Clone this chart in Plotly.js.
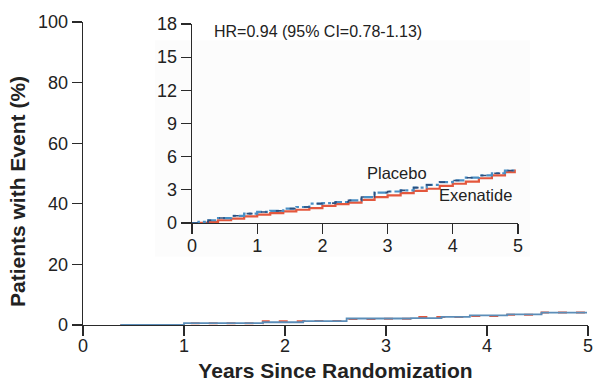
<!DOCTYPE html>
<html>
<head>
<meta charset="utf-8">
<script src="https://cdn.plot.ly/plotly-3.0.1.min.js"></script>
<style>
  html, body { margin: 0; padding: 0; background: #fff; }
  #chart { width: 593px; height: 382px; }
</style>
</head>
<body>
<div id="chart"></div>
<script>
// Cumulative incidence (%) by years since randomization, full 0-100 scale
const mainYears     = [0.37, 1.0, 1.42, 1.78, 2.18, 2.61, 2.9, 3.25, 3.55, 3.83, 4.2, 4.54, 4.99];
const mainPlacebo   = [0, 0.65, 0.65, 0.9, 1.3, 2.15, 2.15, 2.3, 2.65, 3.2, 3.5, 4.1, 4.1];
const mainExenatide = [0, 0.55, 0.6, 1.2, 1.3, 1.95, 2.1, 2.65, 2.65, 3.0, 3.4, 4.1, 4.1];

// Zoomed-in view (0-18 %)
const insetYears     = [0, 0.1, 0.25, 0.4, 0.6, 0.8, 1.0, 1.2, 1.4, 1.6, 1.8, 2.0, 2.2, 2.4, 2.6, 2.8, 3.0, 3.2, 3.4, 3.6, 3.8, 4.0, 4.2, 4.4, 4.6, 4.8, 4.95];
const insetPlacebo   = [0, 0.1, 0.25, 0.45, 0.65, 0.85, 1.0, 1.1, 1.3, 1.45, 1.75, 1.8, 1.9, 2.05, 2.35, 2.75, 2.85, 2.95, 3.2, 3.45, 3.7, 3.85, 4.1, 4.3, 4.5, 4.75, 4.9];
const insetExenatide = [0, 0.02, 0.1, 0.25, 0.4, 0.6, 0.75, 0.9, 1.05, 1.2, 1.35, 1.55, 1.7, 1.85, 2.1, 2.35, 2.5, 2.7, 2.9, 3.1, 3.35, 3.55, 3.75, 4.05, 4.3, 4.6, 4.85];

const mainYTicks  = [0, 20, 40, 60, 80, 100];
const insetYTicks = [0, 3, 6, 9, 12, 15, 18];
const xTicks      = [0, 1, 2, 3, 4, 5];

const hrText = 'HR=0.94 (95% CI=0.78-1.13)';
const groupNames = ['Placebo', 'Exenatide'];
const yTitle = 'Patients with Event (%)';
const xTitle = 'Years Since Randomization';

const RED = '#e3573d';
const BLUE = '#4a8fc4';
const NAVY = '#2d4f7e';
const AXIS = '#2a2a2a';
const TEXT = '#222';
const FONT = 'Liberation Sans, Arial, sans-serif';

const traces = [
  { x: mainYears, y: mainExenatide, xaxis: 'x', yaxis: 'y', mode: 'lines',
    line: { shape: 'hv', color: RED, width: 2, dash: 'dash' }, name: groupNames[1] },
  { x: mainYears, y: mainPlacebo, xaxis: 'x', yaxis: 'y', mode: 'lines',
    line: { shape: 'hv', color: '#5b8db8', width: 1.8 }, name: groupNames[0] },
  { x: insetYears, y: insetExenatide, xaxis: 'x2', yaxis: 'y2', mode: 'lines',
    line: { shape: 'hv', color: RED, width: 2.2 }, name: groupNames[1] },
  { x: insetYears, y: insetPlacebo, xaxis: 'x2', yaxis: 'y2', mode: 'lines',
    line: { shape: 'hv', color: BLUE, width: 2.2, dash: 'dashdot' }, name: groupNames[0] },
  { x: insetYears, y: insetPlacebo, xaxis: 'x2', yaxis: 'y2', mode: 'lines',
    line: { shape: 'hv', color: NAVY, width: 1.6, dash: '6px,10px' }, name: groupNames[0] }
];

const axisCommon = {
  showline: true, linecolor: AXIS, linewidth: 1.3,
  ticks: 'outside', ticklen: 10, tickwidth: 1.3, tickcolor: AXIS,
  showgrid: false, zeroline: false, ticklabeloverflow: 'allow',
  tickfont: { family: FONT, size: 18, color: TEXT }
};

const layout = {
  width: 593, height: 382,
  margin: { l: 83, r: 5, t: 22, b: 57 },
  paper_bgcolor: '#fff', plot_bgcolor: 'rgba(0,0,0,0)',
  showlegend: false,
  font: { family: FONT, color: TEXT },
  xaxis: Object.assign({}, axisCommon, {
    domain: [0, 1], range: [0, 5], tickvals: xTicks, anchor: 'y',
    ticklabelstandoff: -6,
    title: { text: '<b>' + xTitle + '</b>', font: { family: FONT, size: 21, color: TEXT }, standoff: 10 }
  }),
  yaxis: Object.assign({}, axisCommon, {
    domain: [0, 1], range: [0, 100], tickvals: mainYTicks, anchor: 'x'
  }),
  xaxis2: Object.assign({}, axisCommon, {
    domain: [0.2158, 0.8614], range: [0, 5], tickvals: xTicks, anchor: 'y2',
    ticklabelstandoff: -4
  }),
  yaxis2: Object.assign({}, axisCommon, {
    domain: [0.3366, 0.9934], range: [0, 18], tickvals: insetYTicks, anchor: 'x2'
  }),
  shapes: [
    { type: 'rect', xref: 'paper', yref: 'paper', x0: 0.143, x1: 0.885, y0: 0.225, y1: 0.94,
      fillcolor: '#fcfcfc', line: { width: 0 }, layer: 'below' }
  ],
  annotations: [
    // vertical axis title, set a little below the axis midpoint
    { xref: 'paper', yref: 'paper', x: -0.1287, y: 0.439, xanchor: 'center', yanchor: 'middle',
      textangle: -90, text: '<b>' + yTitle + '</b>', showarrow: false,
      font: { family: FONT, size: 21, color: TEXT } },
    { xref: 'x2', yref: 'y2', x: 0.3, y: 17.35, xanchor: 'left', yanchor: 'middle',
      text: hrText, showarrow: false, font: { family: FONT, size: 16, color: TEXT } },
    { xref: 'x2', yref: 'y2', x: 3.15, y: 4.5, xanchor: 'center', yanchor: 'middle',
      text: groupNames[0], showarrow: false, font: { family: FONT, size: 16.5, color: TEXT } },
    { xref: 'x2', yref: 'y2', x: 4.35, y: 2.5, xanchor: 'center', yanchor: 'middle',
      text: groupNames[1], showarrow: false, font: { family: FONT, size: 16.5, color: TEXT } }
  ]
};

Plotly.newPlot('chart', traces, layout, { staticPlot: true, displayModeBar: false });
</script>
</body>
</html>
